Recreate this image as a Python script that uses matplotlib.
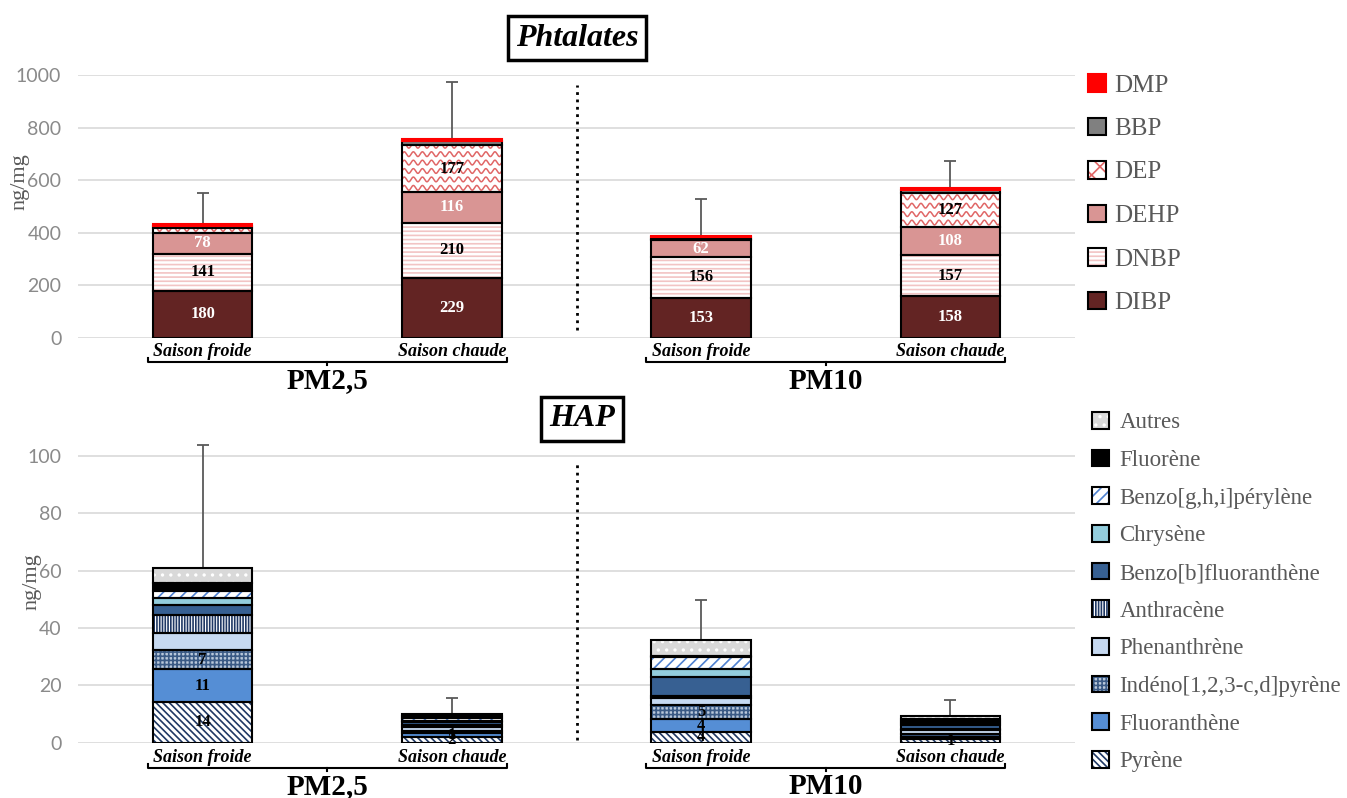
import matplotlib
matplotlib.use('Agg')
import matplotlib.pyplot as plt
import numpy as np
from matplotlib.patches import Patch
from matplotlib import transforms

# ---------------- data ----------------
groups = ['PM2,5', 'PM10']
seasons = ['Saison froide', 'Saison chaude']

# Phtalates (ng/mg), bars: PM2,5 froide, PM2,5 chaude, PM10 froide, PM10 chaude
ph_names = ['DIBP', 'DNBP', 'DEHP', 'DEP', 'BBP', 'DMP']
DIBP = [180, 229, 153, 158]
DNBP = [141, 210, 156, 157]
DEHP = [78, 116, 62, 108]
DEP = [20, 177, 7, 127]
BBP = [6, 16, 5, 12]
DMP = [8, 9, 6, 8]
ph_err = [120, 218, 139, 103]

# HAP (ng/mg)
hap_names = ['Pyrène', 'Fluoranthène', 'Indéno[1,2,3-c,d]pyrène', 'Phenanthrène',
             'Anthracène', 'Benzo[b]fluoranthène', 'Chrysène',
             'Benzo[g,h,i]pérylène', 'Fluorène', 'Autres']
Pyrene = [14.3, 2.0, 3.8, 1.2]
Fluoranthene = [11.3, 1.3, 4.3, 0.9]
Indeno = [6.7, 0.8, 5.0, 0.9]
Phenanthrene = [6.1, 1.5, 2.4, 1.4]
Anthracene = [6.1, 0.5, 0.8, 0.4]
BenzoB = [3.5, 1.2, 6.7, 1.5]
Chrysene = [2.6, 0.4, 2.7, 0.4]
BenzoGHI = [2.4, 0.8, 4.3, 0.9]
Fluorene = [2.8, 0.9, 0.3, 0.8]
Autres = [5.0, 0.6, 5.5, 0.8]
hap_err = [43.0, 5.5, 14.0, 5.6]

ph_series = [DIBP, DNBP, DEHP, DEP, BBP, DMP]
hap_series = [Pyrene, Fluoranthene, Indeno, Phenanthrene, Anthracene, BenzoB,
              Chrysene, BenzoGHI, Fluorene, Autres]

# ---------------- styles ----------------
plt.rcParams['hatch.linewidth'] = 1.2
SERIF = 'Liberation Serif'
GREY = '#595959'

ph_style = {
    'DIBP': dict(fc='#632423', hatch=None, hc='#632423', ec='black', tc='white'),
    'DNBP': dict(fc='white', hatch='----', hc='#F2C4C4', ec='black', tc='black'),
    'DEHP': dict(fc='#D99594', hatch=None, hc='#D99594', ec='black', tc='white'),
    'DEP': dict(fc='white', hatch=None, hc='#E06666', ec='black', tc='black', wave=True),
    'BBP': dict(fc='#808080', hatch=None, hc='#808080', ec='black', tc='black'),
    'DMP': dict(fc='#FF0000', hatch=None, hc='#FF0000', ec='#FF0000', tc='black'),
}
hap_style = {
    'Pyrène': dict(fc='white', hatch='\\\\\\\\\\', hc='#1F3864', ec='black'),
    'Fluoranthène': dict(fc='#558ED5', hatch=None, hc='#558ED5', ec='black'),
    'Indéno[1,2,3-c,d]pyrène': dict(fc='#B8C7DA', hatch='++++', hc='#3A5A85', ec='black'),
    'Phenanthrène': dict(fc='#C6D9F1', hatch=None, hc='#C6D9F1', ec='black'),
    'Anthracène': dict(fc='white', hatch='||||||', hc='#1F3864', ec='black'),
    'Benzo[b]fluoranthène': dict(fc='#376092', hatch=None, hc='#376092', ec='black'),
    'Chrysène': dict(fc='#93CDDD', hatch=None, hc='#93CDDD', ec='black'),
    'Benzo[g,h,i]pérylène': dict(fc='white', hatch='///', hc='#4F81D0', ec='black'),
    'Fluorène': dict(fc='black', hatch=None, hc='black', ec='black'),
    'Autres': dict(fc='#D9D9D9', hatch='..', hc='white', ec='black'),
}

W, H = 1347, 798
fig = plt.figure(figsize=(W / 100, H / 100), dpi=100)


def fx(px):
    return px / W


def fy(py):
    return 1 - py / H


ax1 = fig.add_axes([fx(78), fy(338), fx(1075) - fx(78), fy(75) - fy(338)])
ax2 = fig.add_axes([fx(78), fy(742.7), fx(1075) - fx(78), fy(441.7) - fy(742.7)])

x = np.arange(4) + 0.5
width = 0.4


def setup(ax, ymax, ticks):
    ax.set_xlim(0, 4)
    ax.set_ylim(0, ymax)
    ax.set_yticks(ticks)
    ax.set_xticks([])
    for s in ax.spines.values():
        s.set_visible(False)
    ax.grid(axis='y', color='#D9D9D9', lw=1.2, zorder=0)
    ax.set_axisbelow(True)
    ax.tick_params(axis='y', length=0, pad=12, labelsize=14, labelcolor='#8A8A8A')
    for lab in ax.get_yticklabels():
        lab.set_family('Lato')


setup(ax1, 1000, np.arange(0, 1001, 200))
setup(ax2, 105, np.arange(0, 101, 20))


def draw_stack(ax, names, series, styles, err, labeler, wave_spacing, wave_amp):
    bottom = np.zeros(4)
    for name, vals in zip(names, series):
        vals = np.array(vals, dtype=float)
        st = styles[name]
        fills = ax.bar(x, vals, width, bottom=bottom, color=st['fc'], hatch=st['hatch'],
                       edgecolor=st['hc'], linewidth=0, zorder=2)
        if st.get('wave'):
            for rect in fills:
                x0, y0 = rect.get_x(), rect.get_y()
                w, h = rect.get_width(), rect.get_height()
                xs = np.linspace(x0, x0 + w, 400)
                yy = y0 + wave_spacing * 0.5
                while yy < y0 + h + wave_amp:
                    ln, = ax.plot(xs, yy + wave_amp * np.sin(2 * np.pi * (xs - x0) / (w / 11)),
                                  color=st['hc'], lw=1.1, zorder=2.2)
                    ln.set_clip_path(rect)
                    yy += wave_spacing
        ax.bar(x, vals, width, bottom=bottom, fill=False, edgecolor=st['ec'],
               linewidth=1.5, zorder=3)
        for i in range(4):
            txt = labeler(name, vals[i])
            if txt:
                ax.text(x[i], bottom[i] + vals[i] / 2, txt, ha='center', va='center',
                        family=SERIF, fontweight='bold', fontsize=12,
                        color=st.get('tc', 'black'), zorder=5)
        bottom += vals
    ax.errorbar(x, bottom, yerr=[np.zeros(4), err], fmt='none', ecolor=GREY,
                elinewidth=1.3, capsize=4, capthick=1.3, zorder=2.5)


def ph_label(name, v):
    return f'{v:.0f}' if v >= 50 else None


def hap_label(name, v):
    if name in hap_names[:3] and v >= 1:
        return f'{v:.0f}'
    return None


draw_stack(ax1, ph_names, ph_series, ph_style, ph_err, ph_label, 32, 9)
draw_stack(ax2, hap_names, hap_series, hap_style, hap_err, hap_label, 3.5, 1)

# dividers
ax1.plot([2, 2], [30, 962], ls=':', color='black', lw=2, zorder=1)
ax2.plot([2, 2], [1, 98], ls=':', color='black', lw=2, zorder=1)


# category labels, brackets, group labels
def annotate_groups(ax, y_cat, y_br, y_grp):
    tr = transforms.blended_transform_factory(ax.transData, fig.transFigure)
    for i in range(4):
        ax.text(x[i], fy(y_cat), seasons[i % 2], transform=tr, ha='center', va='center',
                family=SERIF, fontweight='bold', fontstyle='italic', fontsize=13,
                clip_on=False)
    for g in range(2):
        xl = x[2 * g] - 0.22
        xr = x[2 * g + 1] + 0.22
        xm = (x[2 * g] + x[2 * g + 1]) / 2
        ax.plot([xl, xl, xr, xr], [fy(y_br - 4), fy(y_br), fy(y_br), fy(y_br - 4)],
                transform=tr, color='black', lw=1.5, clip_on=False)
        ax.plot([xm, xm], [fy(y_br), fy(y_br + 3)], transform=tr, color='black', lw=1.5,
                clip_on=False)
        ax.text(xm, fy(y_grp), groups[g], transform=tr, ha='center', va='center',
                family=SERIF, fontweight='bold', fontsize=21, clip_on=False)


annotate_groups(ax1, 352, 362, 381)
annotate_groups(ax2, 757, 768, 787)

# y labels
fig.text(fx(20), fy(182), 'ng/mg', rotation=90, ha='center', va='center',
         family=SERIF, fontsize=16, color=GREY)
fig.text(fx(32), fy(582), 'ng/mg', rotation=90, ha='center', va='center',
         family=SERIF, fontsize=16, color=GREY)

# titles
fig.text(fx(577), fy(38), 'Phtalates', ha='center', va='center', family=SERIF,
         fontweight='bold', fontstyle='italic', fontsize=23,
         bbox=dict(boxstyle='square,pad=0.25', fc='white', ec='black', lw=2.5))
fig.text(fx(582), fy(419), 'HAP', ha='center', va='center', family=SERIF,
         fontweight='bold', fontstyle='italic', fontsize=23,
         bbox=dict(boxstyle='square,pad=0.25', fc='white', ec='black', lw=2.5))


# legends
def handle(st, legend_hatch=None):
    hatch = legend_hatch if legend_hatch else st['hatch']
    fillp = Patch(facecolor=st['fc'], hatch=hatch, edgecolor=st['hc'], linewidth=0)
    edgep = Patch(fill=False, edgecolor=st['ec'], linewidth=1.5)
    return (fillp, edgep)


ph_handles = []
for n in ph_names[::-1]:
    ph_handles.append(handle(ph_style[n], 'xx' if n == 'DEP' else None))
leg1 = fig.legend(ph_handles, ph_names[::-1], loc='upper left',
                  bbox_to_anchor=(fx(1088), fy(74)), frameon=False,
                  prop=dict(family=SERIF, size=18), labelcolor=GREY,
                  handlelength=0.7, handleheight=0.7, handletextpad=0.35,
                  labelspacing=0.84, borderaxespad=0, borderpad=0)

hap_handles = [handle(hap_style[n]) for n in hap_names[::-1]]
leg2 = fig.legend(hap_handles, hap_names[::-1], loc='upper left',
                  bbox_to_anchor=(fx(1092), fy(412)), frameon=False,
                  prop=dict(family=SERIF, size=16.5), labelcolor=GREY,
                  handlelength=0.75, handleheight=0.75, handletextpad=0.45,
                  labelspacing=0.71, borderaxespad=0, borderpad=0)

fig.savefig('out.png', dpi=100, facecolor='white')
